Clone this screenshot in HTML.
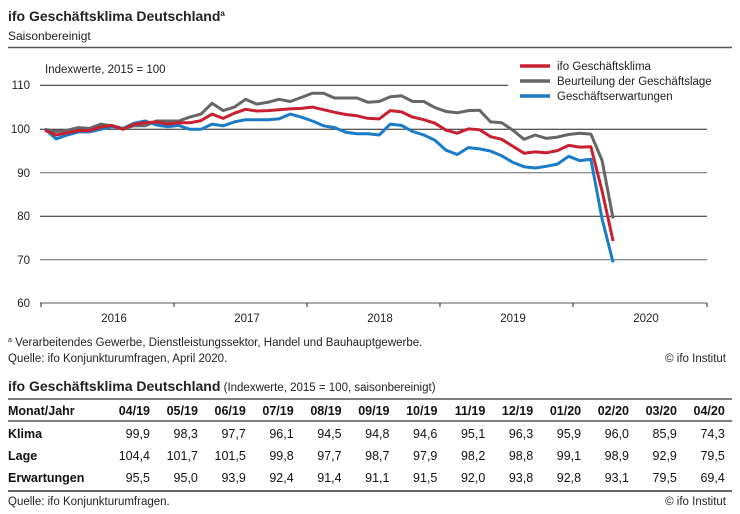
<!DOCTYPE html>
<html><head><meta charset="utf-8"><style>
body{margin:0;background:#fff;width:740px;height:514px;overflow:hidden}
svg{display:block;font-family:"Liberation Sans",sans-serif}
</style></head><body>
<svg id="s" width="740" height="514" viewBox="0 0 740 514" xmlns="http://www.w3.org/2000/svg">
<text x="8" y="21" font-size="14" font-weight="bold" fill="#222">ifo Geschäftsklima Deutschland<tspan font-size="8" dy="-5">a</tspan></text>
<text x="8" y="40" font-size="12" fill="#222">Saisonbereinigt</text>
<line x1="8" y1="47.5" x2="732" y2="47.5" stroke="#555" stroke-width="1.5"/>
<text x="45" y="73" font-size="11.5" fill="#222">Indexwerte, 2015 = 100</text>
<g stroke="#222" stroke-width="1">
<line x1="40" y1="85.3" x2="508" y2="85.3"/>
<line x1="40" y1="129.3" x2="707" y2="129.3"/>
<line x1="40" y1="172.8" x2="707" y2="172.8" stroke="#666"/>
<line x1="40" y1="216.3" x2="707" y2="216.3"/>
<line x1="40" y1="259.8" x2="707" y2="259.8" stroke="#666"/>
<line x1="40" y1="303" x2="707" y2="303" stroke="#555"/>
<line x1="41" y1="303" x2="41" y2="307"/><line x1="174" y1="303" x2="174" y2="307"/><line x1="307" y1="303" x2="307" y2="307"/><line x1="440" y1="303" x2="440" y2="307"/><line x1="573" y1="303" x2="573" y2="307"/><line x1="707" y1="303" x2="707" y2="307"/>
</g>
<g font-size="11.5" fill="#222" text-anchor="end">
<text x="30" y="89">110</text><text x="30" y="133">100</text><text x="30" y="177">90</text><text x="30" y="220">80</text><text x="30" y="264">70</text><text x="30" y="307">60</text>
</g>
<g font-size="11.5" fill="#222" text-anchor="middle">
<text x="114" y="322">2016</text><text x="247" y="322">2017</text><text x="380" y="322">2018</text><text x="513" y="322">2019</text><text x="646" y="322">2020</text>
</g>
<g id="lines" fill="none" stroke-width="3" stroke-linejoin="round"></g>
<g stroke-width="3.5">
<line x1="520" y1="66" x2="550" y2="66" stroke="#c8202f"/>
<line x1="520" y1="81" x2="550" y2="81" stroke="#666"/>
<line x1="520" y1="96" x2="550" y2="96" stroke="#1a7cc8"/>
</g>
<g font-size="11.5" fill="#222">
<text x="557" y="70">ifo Geschäftsklima</text>
<text x="557" y="85">Beurteilung der Geschäftslage</text>
<text x="557" y="100">Geschäftserwartungen</text>
</g>
<g font-size="11.5" fill="#222">
<text x="8" y="346"><tspan font-size="7" dy="-4">a</tspan><tspan dy="4"> Verarbeitendes Gewerbe, Dienstleistungssektor, Handel und Bauhauptgewerbe.</tspan></text>
<text x="8" y="362">Quelle: ifo Konjunkturumfragen, April 2020.</text>
<text x="726" y="362" text-anchor="end">© ifo Institut</text>
<text x="8" y="391"><tspan font-size="14" font-weight="bold">ifo Geschäftsklima Deutschland</tspan> <tspan font-size="11.5">(Indexwerte, 2015 = 100, saisonbereinigt)</tspan></text>
<text x="8" y="505">Quelle: ifo Konjunkturumfragen.</text>
<text x="726" y="505" text-anchor="end">© ifo Institut</text>
</g>
<line x1="8" y1="399" x2="732" y2="399" stroke="#555" stroke-width="1.5"/>
<line x1="8" y1="421" x2="732" y2="421" stroke="#555" stroke-width="1.5"/>
<line x1="8" y1="491" x2="732" y2="491" stroke="#333" stroke-width="1.5"/>
<g id="tbl" font-size="12.5" fill="#111"></g>
</svg>
<script>
var K=[99.8,98.7,99.2,99.7,99.7,100.5,100.9,100,101.2,101.5,101.7,101.2,101.5,101.5,102,103.5,102.5,103.7,104.6,104.2,104.3,104.5,104.7,104.8,105.1,104.5,103.9,103.4,103.1,102.5,102.4,104.3,104,102.8,102.2,101.4,99.8,99.1,100.1,99.9,98.3,97.7,96.1,94.5,94.8,94.6,95.1,96.3,95.9,96.0,85.9,74.3];
var L=[100,99.5,99.8,100.4,100.2,101.2,100.8,100.2,100.8,100.8,101.9,101.9,101.9,102.8,103.5,106,104.3,105.1,106.9,105.8,106.2,106.9,106.4,107.3,108.3,108.3,107.2,107.2,107.2,106.2,106.4,107.5,107.7,106.4,106.4,105,104.1,103.8,104.3,104.4,101.7,101.5,99.8,97.7,98.7,97.9,98.2,98.8,99.1,98.9,92.9,79.5];
var E=[100,97.8,98.7,99.4,99.4,100,100.6,100.2,101.4,101.9,101,100.6,100.9,100,100,101.2,100.8,101.7,102.2,102.2,102.2,102.4,103.5,102.8,101.9,100.8,100.4,99.3,99,99,98.7,101.2,100.9,99.5,98.7,97.5,95.2,94.2,95.8,95.5,95.0,93.9,92.4,91.4,91.1,91.5,92.0,93.8,92.8,93.1,79.5,69.4];
function pts(a){return a.map(function(v,i){return (45+11.14*i).toFixed(1)+","+(129.3-(v-100)*4.35).toFixed(1)}).join(" ")}
var g=document.getElementById("lines");
[[L,"#666"],[E,"#1a7cc8"],[K,"#c8202f"]].forEach(function(p){
var e=document.createElementNS("http://www.w3.org/2000/svg","polyline");
e.setAttribute("points",pts(p[0]));e.setAttribute("stroke",p[1]);g.appendChild(e);});
var cols=["04/19","05/19","06/19","07/19","08/19","09/19","10/19","11/19","12/19","01/20","02/20","03/20","04/20"];
var rows=[["Monat/Jahr",cols,415,true],["Klima",["99,9","98,3","97,7","96,1","94,5","94,8","94,6","95,1","96,3","95,9","96,0","85,9","74,3"],438],
["Lage",["104,4","101,7","101,5","99,8","97,7","98,7","97,9","98,2","98,8","99,1","98,9","92,9","79,5"],460],
["Erwartungen",["95,5","95,0","93,9","92,4","91,4","91,1","91,5","92,0","93,8","92,8","93,1","79,5","69,4"],482]];
var t=document.getElementById("tbl"),h="";
rows.forEach(function(r){
h+='<text x="8" y="'+r[2]+'" font-weight="bold">'+r[0]+'</text>';
r[1].forEach(function(c,i){h+='<text x="'+(150+47.9*i).toFixed(1)+'" y="'+r[2]+'" text-anchor="end"'+(r[3]?' font-weight="bold"':'')+'>'+c+'</text>';});
});
t.innerHTML=h;
</script>
</body></html>
